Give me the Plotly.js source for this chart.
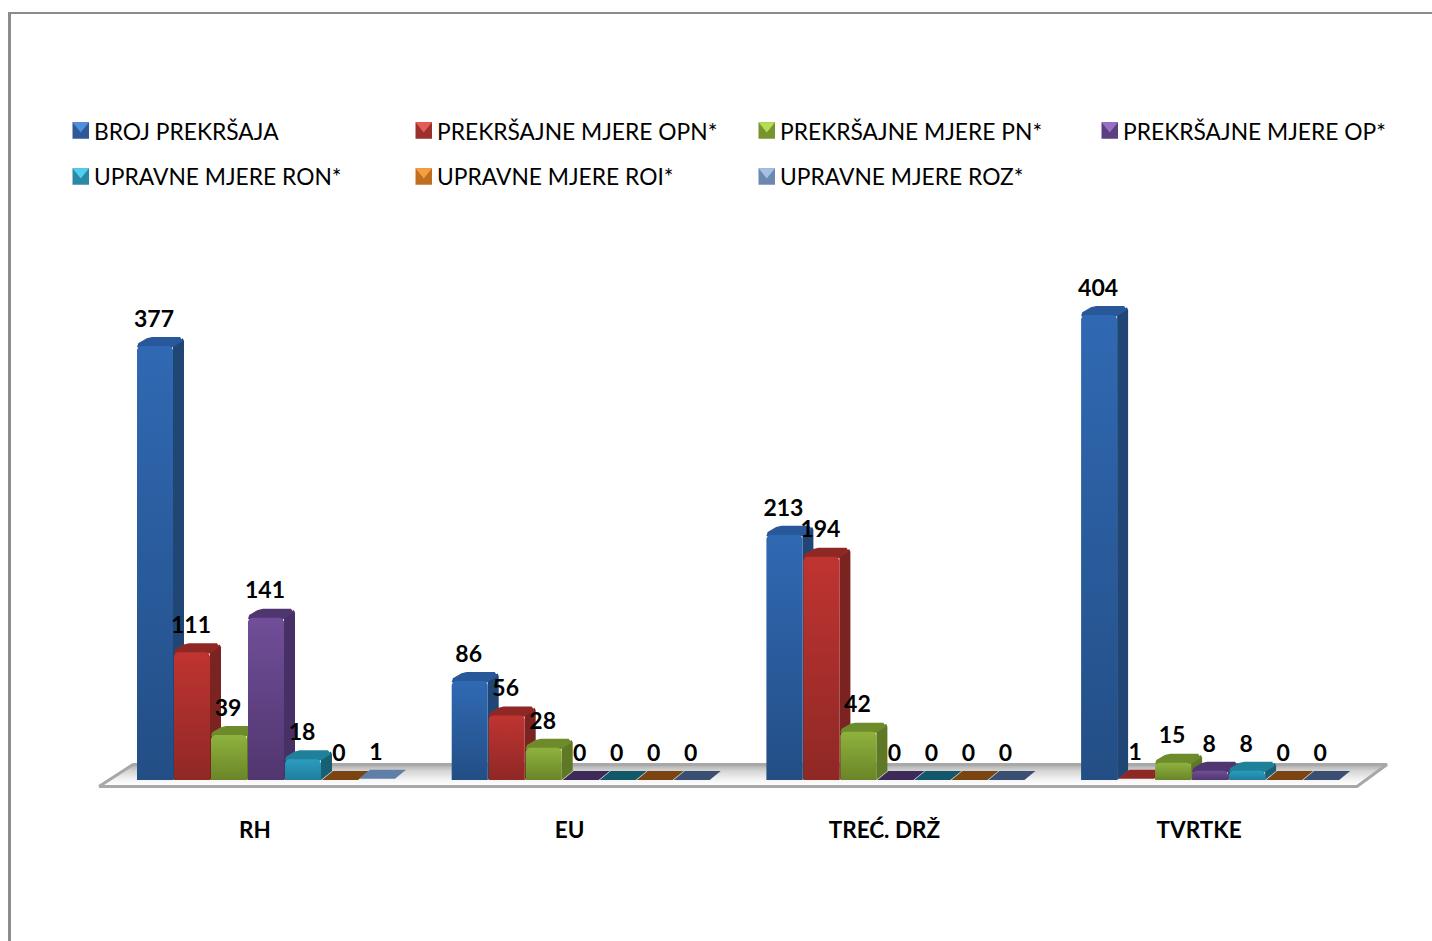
<!DOCTYPE html>
<html><head><meta charset="utf-8">
<script src="https://cdn.plot.ly/plotly-3.0.1.min.js"></script>
<style>html,body{margin:0;padding:0;background:#fff;overflow:hidden}#c{width:1432px;height:941px}</style>
</head><body><div id="c"></div>
<script>
const categories = ["RH", "EU", "TREĆ. DRŽ", "TVRTKE"];
const seriesNames = ["BROJ PREKRŠAJA","PREKRŠAJNE MJERE OPN*","PREKRŠAJNE MJERE PN*","PREKRŠAJNE MJERE OP*","UPRAVNE MJERE RON*","UPRAVNE MJERE ROI*","UPRAVNE MJERE ROZ*"];
const brojPrekrsaja = [377, 86, 213, 404];
const mjereOPN = [111, 56, 194, 1];
const mjerePN = [39, 28, 42, 15];
const mjereOP = [141, 0, 0, 8];
const mjereRON = [18, 0, 0, 8];
const mjereROI = [0, 0, 0, 0];
const mjereROZ = [1, 0, 0, 0];
const seriesValues = [brojPrekrsaja, mjereOPN, mjerePN, mjereOP, mjereRON, mjereROI, mjereROZ];

const frontTop = ["#3069b3","#bf3431","#8fb23e","#704e99","#2b9cbf","#d8802a","#7d97bd"];
const frontBot = ["#234e85","#8f2825","#6a8528","#51366f","#1f7f9c","#a8611c","#5f7ea8"];
const topCol   = ["#28589a","#8f2825","#6e8b2c","#503670","#1e8099","#7f4712","#5f7ea8"];
const sideCol  = ["#1f4674","#7a2321","#5f7826","#463064","#185f74","#6b3a0e","#4a6387"];
const flatCol  = ["#1d3e69","#8f2a28","#5c7423","#3e2a59","#13586a","#7a4513","#3b4f73"];
const legTop   = ["#4f8fe0","#e85a55","#b4dc55","#9670c8","#4fd0ee","#f5a040","#a5bfe5"];
const legBody  = ["#2f5a95","#99302c","#76932f","#5b3f80","#2a8aa6","#c06f1f","#6c88b0"];

const W = 1432, H = 941, BOTTOM = 814, ZERO_PX = 780;
const pxPerGroup = 314.7, pxPerUnit = 1.151;
const firstCenter = 266;
const step = 37 / pxPerGroup, barW = 36 / pxPerGroup;
const dx = 11 / pxPerGroup, dy = 9 / pxPerUnit, chX = 4 / pxPerGroup, chY = 4 / pxPerUnit;
const labelLift = 25 / pxPerUnit;

const xOf = (g, s) => g + (s - 3) * step;
const X = px => (px - firstCenter) / pxPerGroup;
const Y = py => (ZERO_PX - py) / pxPerUnit;

const traces = [];
function poly(xs, ys, color, grad) {
  const t = {type:"scatter", mode:"lines", x:xs, y:ys, fill:"toself", line:{width:0, color:"rgba(0,0,0,0)"},
    hoverinfo:"skip", showlegend:false};
  if (grad) t.fillgradient = grad; else t.fillcolor = color;
  traces.push(t);
}
seriesValues.forEach((vals, s) => {
  traces.push({type:"bar", name:seriesNames[s], x:categories.map((_, g) => xOf(g, s)), y:vals, width:barW * 0.9,
    marker:{color:frontBot[s]}, hoverinfo:"skip", showlegend:false});
});
const floorX = [X(99),X(1357),X(1387),X(133),X(99)], floorY = [Y(786.5),Y(786.5),Y(764.5),Y(764.5),Y(786.5)];
poly(floorX, floorY, null,
  {type:"vertical", colorscale:[[0,"#ffffff"],[0.3,"#f4f4f4"],[0.7,"#d6d6d6"],[1,"#ababab"]]});
traces.push({type:"scatter", mode:"lines", x:floorX, y:floorY,
  line:{color:"#a8a8a8", width:3}, hoverinfo:"skip", showlegend:false, cliponaxis:false});
categories.forEach((_, g) => {
  seriesValues.forEach((vals, s) => {
    const v = vals[g], c = xOf(g, s), l = c - barW / 2, r = c + barW / 2;
    if (v <= 1) {
      const col = v === 0 ? flatCol[s] : topCol[s];
      poly([l, r, r + dx, l + dx, l], [v, v, v + dy, v + dy, v], col);
      return;
    }
    const hx = chX * 0.3, hy = chY * 0.3;
    poly([r, r + dx, r + dx, r + dx - hx, r, r], [0, dy, v + dy - chY, v + dy - hy, v, 0], sideCol[s]);
    poly([l, r, r + dx - hx, r + dx - chX, l + dx + chX, l + dx - hx, l + hx, l],
         [v - hy, v - hy, v + dy - chY, v + dy, v + dy, v + dy - hy, v + chY * 0.7, v - hy], topCol[s]);
    poly([l, l, l + hx, l + chX, r - chX, r - hx, r, r, l],
         [0, v - chY, v - hy, v, v, v - hy, v - chY, 0, 0], null,
      {type:"vertical", colorscale:[[0, frontBot[s]],[1, frontTop[s]]]});
  });
});
seriesValues.forEach((vals, s) => {
  traces.push({type:"scatter", mode:"text", x:categories.map((_, g) => xOf(g, s) - 1 / pxPerGroup),
    y:vals.map(v => v + labelLift), text:vals.map(String), textposition:"middle center",
    textfont:{family:"Lato, sans-serif", size:23, color:"#000", weight:700}, hoverinfo:"skip", showlegend:false, cliponaxis:false});
});

const px2paperX = p => p / W, px2paperY = p => (BOTTOM - p) / BOTTOM;
const shapes = [
  {type:"line", xref:"paper", yref:"paper", x0:px2paperX(9.5), x1:px2paperX(9.5), y0:px2paperY(12), y1:px2paperY(941), line:{color:"#8c8c8c", width:3}},
  {type:"line", xref:"paper", yref:"paper", x0:px2paperX(8), x1:px2paperX(1432), y0:px2paperY(13), y1:px2paperY(13), line:{color:"#8c8c8c", width:2}}
];
const annotations = [];
const legCols = [72.5, 415.5, 758.5, 1101.5], legRows = [130.5, 176.5];
seriesNames.forEach((name, s) => {
  const lx = legCols[s % 4], cy = legRows[Math.floor(s / 4)], sz = 16.5;
  const a = px2paperX(lx), b = px2paperX(lx + sz), t = px2paperY(cy - sz / 2), u = px2paperY(cy + sz / 2);
  shapes.push({type:"rect", xref:"paper", yref:"paper", x0:a, x1:b, y0:u, y1:t, fillcolor:legBody[s], line:{width:0}});
  shapes.push({type:"path", xref:"paper", yref:"paper", path:`M ${a} ${t} L ${b} ${t} L ${(a + b) / 2} ${px2paperY(cy + 2)} Z`, fillcolor:legTop[s], line:{width:0}});
  annotations.push({xref:"paper", yref:"paper", x:px2paperX(lx + 19.5), y:px2paperY(cy), xanchor:"left", yanchor:"middle", showarrow:false,
    text:name, font:{family:"Lato, sans-serif", size:22.8, color:"#000"}});
});

Plotly.newPlot("c", traces, {
  width:W, height:H, paper_bgcolor:"#fff", plot_bgcolor:"#fff", showlegend:false, barmode:"overlay",
  margin:{l:0, r:0, t:0, b:H - BOTTOM, pad:0},
  xaxis:{range:[X(0), X(W)], tickmode:"array", tickvals:categories.map((_, g) => g - 11 / pxPerGroup), ticktext:categories.map(c => "<b>" + c + "</b>"),
    showgrid:false, zeroline:false, showline:false, ticks:"",
    tickfont:{family:"Lato, sans-serif", size:22.5, color:"#000"}},
  yaxis:{range:[Y(BOTTOM), Y(0)], visible:false, showgrid:false, zeroline:false},
  shapes, annotations, hovermode:false
}, {displayModeBar:false, staticPlot:true});
</script></body></html>
